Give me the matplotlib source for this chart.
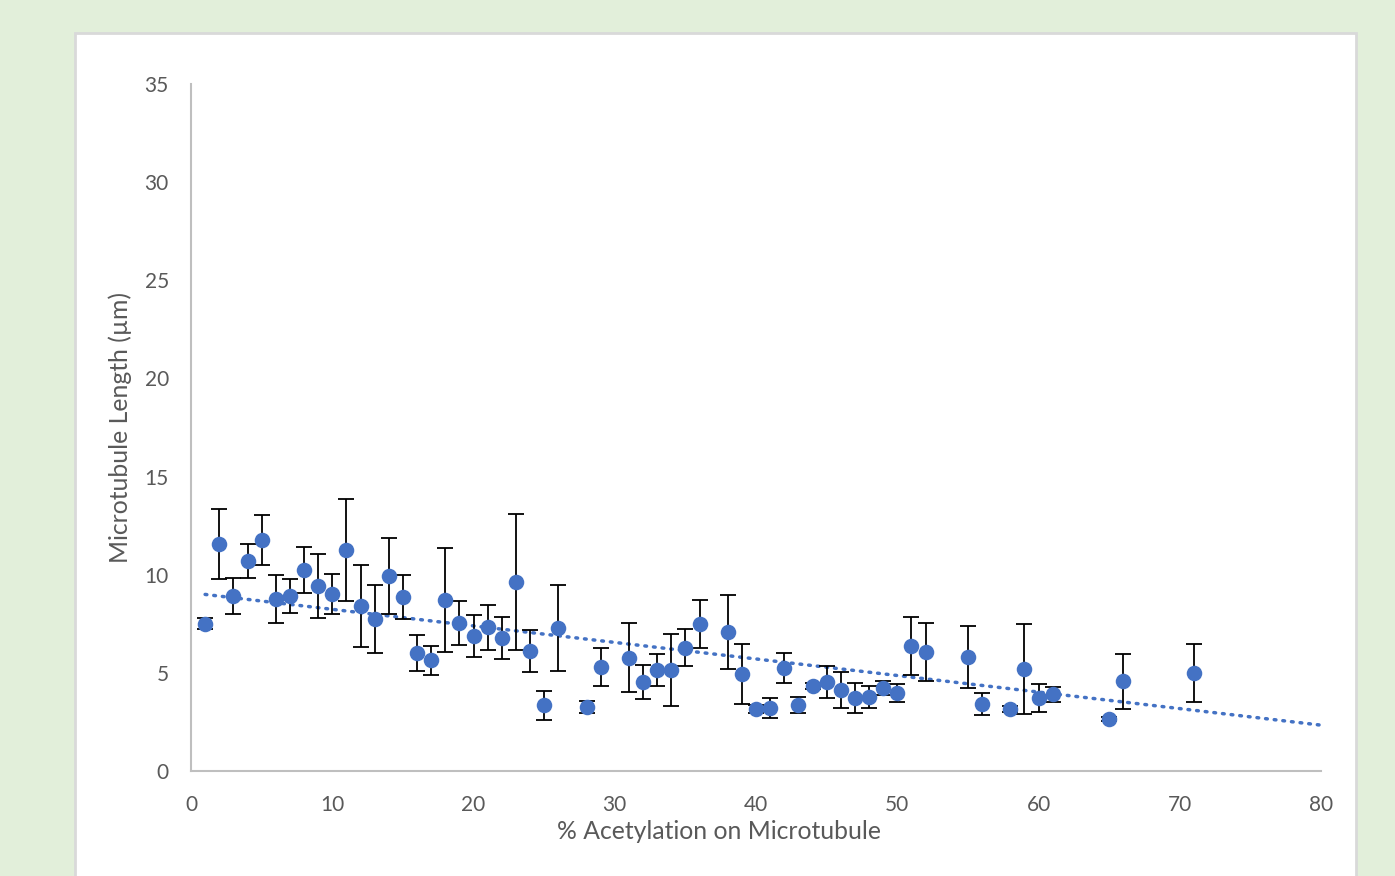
import matplotlib.pyplot as plt
import matplotlib.patches as patches
import numpy as np

plt.rcParams['font.family'] = ['Lato', 'DejaVu Sans']

# % acetylation, mean length, error
acetylation = [1, 2, 3, 4, 5, 6, 7, 8, 9, 10, 11, 12, 13, 14, 15, 16, 17, 18, 19, 20,
               21, 22, 23, 24, 25, 26, 28, 29, 31, 32, 33, 34, 35, 36, 38, 39, 40, 41,
               42, 43, 44, 45, 46, 47, 48, 49, 50, 51, 52, 55, 56, 58, 59, 60, 61, 65,
               66, 71]
length = [7.49, 11.56, 8.91, 10.70, 11.77, 8.76, 8.91, 10.24, 9.42, 9.02, 11.26, 8.40,
          7.74, 9.93, 8.86, 6.01, 5.65, 8.71, 7.54, 6.88, 7.33, 6.78, 9.63, 6.11, 3.36,
          7.28, 3.26, 5.30, 5.76, 4.53, 5.15, 5.15, 6.27, 7.49, 7.08, 4.94, 3.16, 3.21,
          5.25, 3.36, 4.33, 4.53, 4.13, 3.72, 3.77, 4.23, 3.97, 6.37, 6.06, 5.81, 3.41,
          3.16, 5.20, 3.72, 3.92, 2.65, 4.58, 4.99]
error = [0.28, 1.80, 0.90, 0.87, 1.27, 1.20, 0.85, 1.17, 1.65, 1.00, 2.60, 2.10,
         1.73, 1.95, 1.10, 0.90, 0.74, 2.65, 1.10, 1.05, 1.15, 1.07, 3.45, 1.05, 0.74,
         2.20, 0.31, 0.96, 1.76, 0.87, 0.82, 1.85, 0.94, 1.20, 1.90, 1.53, 0.20, 0.50,
         0.77, 0.43, 0.15, 0.80, 0.92, 0.77, 0.58, 0.36, 0.48, 1.50, 1.48, 1.58, 0.56,
         0.15, 2.30, 0.70, 0.38, 0.10, 1.40, 1.48]

# linear trendline as shown on the chart
trend_x = [1, 80]
trend_slope = -0.0843
trend_intercept = 9.08

blue = '#4472C4'
grey = '#595959'

fig = plt.figure(figsize=(13.95, 8.76), dpi=100)
fig.patch.set_facecolor('#E2EFDA')
panel = patches.Rectangle((75 / 1395, -0.01), 1281 / 1395, (876 - 33) / 876 + 0.01,
                          transform=fig.transFigure, facecolor='white',
                          edgecolor='#D9D9D9', linewidth=2, zorder=-10)
fig.patches.append(panel)

ax = fig.add_axes([191 / 1395, (876 - 771) / 876, 1130 / 1395, 687 / 876])
ax.set_facecolor('none')

ax.errorbar(acetylation, length, yerr=error, fmt='none', ecolor='black',
            elinewidth=1.3, capsize=6, capthick=1.3, zorder=2)
ax.scatter(acetylation, length, s=125, color=blue, zorder=3, linewidths=0)

xt = np.array(trend_x)
ax.plot(xt, trend_slope * xt + trend_intercept, color=blue, linewidth=2.5,
        linestyle=(0, (0.5, 2.0)), dash_capstyle='round', zorder=1)

ax.set_xlim(0, 80)
ax.set_ylim(0, 35)
ax.set_xticks(range(0, 81, 10))
ax.set_yticks(range(0, 36, 5))

for side in ['top', 'right']:
    ax.spines[side].set_visible(False)
for side in ['left', 'bottom']:
    ax.spines[side].set_color('#BFBFBF')
    ax.spines[side].set_linewidth(1.5)

ax.tick_params(axis='both', length=0, labelsize=15, labelcolor=grey)
ax.tick_params(axis='y', pad=16)
ax.tick_params(axis='x', pad=17)

ax.set_xlabel('% Acetylation on Microtubule', fontsize=17.8, color=grey)
ax.set_ylabel('Microtubule Length (µm)', fontsize=17.8, color=grey)
ax.xaxis.set_label_coords((719 - 191) / 1130, -(820 - 771) / 687)
ax.yaxis.set_label_coords(-(191 - 132) / 1130, 0.5)

plt.savefig('out.png', dpi=100, facecolor=fig.get_facecolor())
